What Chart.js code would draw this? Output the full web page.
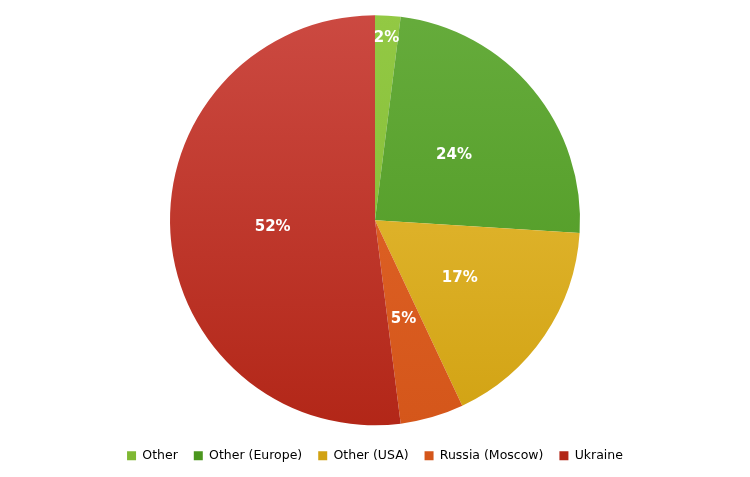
<!DOCTYPE html>
<html>
<head>
<meta charset="utf-8">
<script src="https://cdn.jsdelivr.net/npm/chart.js@4"></script>
<style>
  html, body { margin: 0; padding: 0; background: #fff; }
  #wrap { width: 750px; height: 477px; }
</style>
</head>
<body>
<div id="wrap"><canvas id="pieChart"></canvas></div>
<script>
const labels = ["Other", "Other (Europe)", "Other (USA)", "Russia (Moscow)", "Ukraine"];
const shares = [2, 24, 17, 5, 52];
const topColors = ["#93c944", "#66ac3c", "#eac140", "#e4682c", "#cc4a42"];
const bottomColors = ["#7fb833", "#4b961e", "#d1a212", "#d4561a", "#b22617"];

// vertical gradient per slice, like the original
function sliceFill(ctx) {
  const chart = ctx.chart;
  const area = chart.chartArea;
  if (!area) return topColors[ctx.dataIndex];
  const g = chart.ctx.createLinearGradient(0, area.top, 0, area.bottom);
  g.addColorStop(0, topColors[ctx.dataIndex]);
  g.addColorStop(1, bottomColors[ctx.dataIndex]);
  return g;
}

// percentage labels inside slices
const pctLabels = {
  id: "pctLabels",
  afterDatasetsDraw(chart) {
    const c = chart.ctx;
    const meta = chart.getDatasetMeta(0);
    c.save();
    c.font = "bold 15px 'DejaVu Sans'";
    c.fillStyle = "#fff";
    c.textAlign = "center";
    c.textBaseline = "middle";
    meta.data.forEach((arc, i) => {
      const p = arc.getProps(["x", "y", "startAngle", "endAngle", "outerRadius"], true);
      const mid = (p.startAngle + p.endAngle) / 2;
      const r = shares[i] < 3 ? p.outerRadius * 0.89 : p.outerRadius * 0.5;
      c.fillText(shares[i] + "%", p.x + Math.cos(mid) * r, p.y + Math.sin(mid) * r);
    });
    c.restore();
  }
};

new Chart(document.getElementById("pieChart"), {
  type: "pie",
  data: {
    labels: labels,
    datasets: [{
      data: shares,
      backgroundColor: sliceFill,
      borderWidth: 0
    }]
  },
  options: {
    responsive: true,
    maintainAspectRatio: false,
    animation: false,
    events: [],
    radius: 205,
    layout: { padding: { top: 7, bottom: 5 } },
    plugins: {
      tooltip: { enabled: false },
      legend: {
        position: "bottom",
        labels: {
          boxWidth: 9,
          boxHeight: 9,
          padding: 16,
          color: "#404040",
          font: { family: "'DejaVu Sans'", size: 12.5 },
          generateLabels(chart) {
            return labels.map((l, i) => ({
              text: l,
              fillStyle: bottomColors[i],
              strokeStyle: bottomColors[i],
              lineWidth: 0,
              index: i
            }));
          }
        }
      }
    }
  },
  plugins: [pctLabels]
});
</script>
</body>
</html>
